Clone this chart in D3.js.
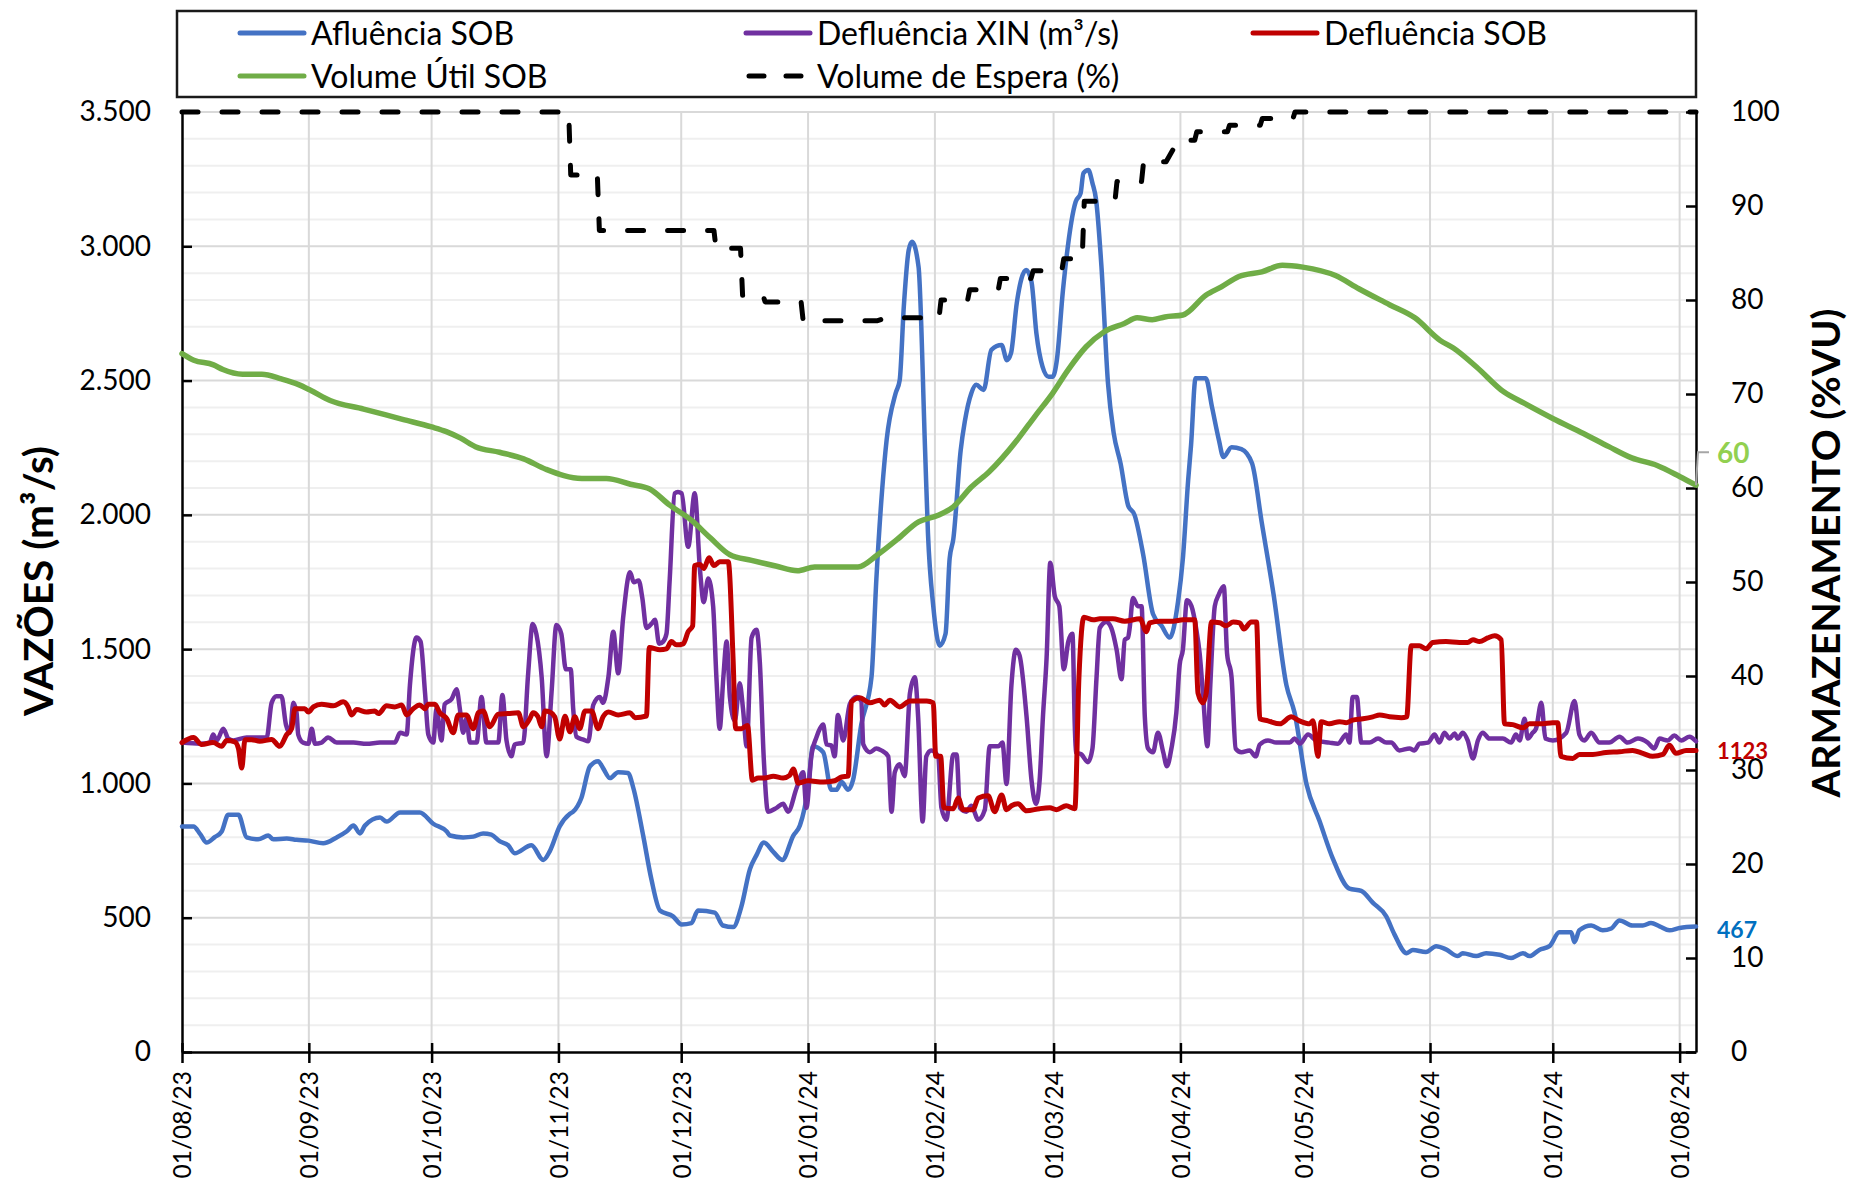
<!DOCTYPE html>
<html><head><meta charset="utf-8">
<script src="https://cdn.jsdelivr.net/npm/d3@7"></script>
<style>
body{margin:0;background:#fff}
svg text{font-family:Lato,"Open Sans","DejaVu Sans",sans-serif;fill:#000}
</style></head>
<body><svg id="chart" width="1852" height="1178"></svg>
<script>
// ---------- DATA (day offset from 01/08/23, value) ----------
const startDate = "2023-08-01";
const endDate = "2024-08-05";
const monthTicks = ["01/08/23","01/09/23","01/10/23","01/11/23","01/12/23","01/01/24","01/02/24","01/03/24","01/04/24","01/05/24","01/06/24","01/07/24","01/08/24"];
const flowTicks = [0,500,1000,1500,2000,2500,3000,3500];
const storageTicks = [0,10,20,30,40,50,60,70,80,90,100];
const seriesNames = ["Afluência SOB","Defluência XIN (m³/s)","Defluência SOB","Volume Útil SOB","Volume de Espera (%)"];

const afluenciaSOB = [[0,840],[2.8,840],[4.5,810],[6,780],[8,800],[9.7,821],[11.3,883],[13.8,883],[15.8,799],[18.6,792],[21.1,806],[22.3,792],[25.6,795],[28,790],[30.9,787],[34.5,777],[37.8,799],[40.2,821],[41.9,843],[43.5,814],[44.7,843],[48.4,873],[50,858],[53.3,892],[58.1,892],[61.4,850],[64.7,821],[65.5,806],[68.7,799],[71.2,802],[73.6,814],[75.6,809],[77.7,784],[79.7,770],[81.3,740],[85.4,770],[88.3,715],[89.9,748],[92.3,840],[94.8,887],[95.6,895],[97.6,946],[99.7,1064],[101.7,1083],[102.9,1057],[104.6,1020],[106.6,1042],[109,1039],[110.3,983],[112.7,806],[114.7,644],[116.8,527],[120,505],[122.1,475],[124.5,480],[126.1,527],[130.2,519],[132.2,471],[134.7,465],[136.7,541],[138.8,681],[140.4,733],[142.2,780],[144.5,745],[146.7,715],[149.4,806],[151,843],[153,983],[154.2,1138],[156.7,1116],[158.7,976],[159.9,976],[161.2,1005],[162.8,976],[164,1013],[166,1219],[168.5,1395],[169.7,1763],[171.1,2092],[172.2,2279],[174.4,2453],[175.4,2502],[176.4,2775],[177.6,2986],[178.4,3017],[180,2924],[181.6,2241],[182.3,1932],[183.6,1660],[185.2,1513],[186.6,1557],[187.6,1837],[188.5,1910],[190.3,2241],[191.3,2347],[192.9,2453],[194.1,2484],[195.9,2465],[197.8,2614],[200.3,2632],[201.6,2576],[202.6,2602],[204,2788],[206.3,2912],[207.6,2868],[208.8,2676],[210.3,2552],[211.8,2514],[212.8,2514],[213.8,2576],[215.3,2837],[218.4,3166],[219.6,3197],[220.3,3272],[221.5,3284],[222.5,3235],[223.4,3172],[224.7,2924],[226.3,2490],[227.7,2304],[229.4,2190],[231.2,2036],[232.8,1999],[234.9,1852],[237.3,1631],[239.4,1587],[241.4,1543],[243.4,1675],[244.6,1837],[245.9,2131],[246.6,2260],[247.7,2509],[250.2,2509],[251.7,2403],[253.4,2279],[254.5,2215],[256.5,2252],[258.9,2245],[261.5,2192],[263.9,1969],[266.8,1700],[269.9,1366],[271.9,1263],[274.8,998],[278,860],[281.3,718],[285.3,608],[288.2,600],[291,556],[294.3,505],[296.3,438],[299.3,368],[300.8,380],[304,372],[306.5,394],[308.9,382],[311.8,357],[313,368],[316.3,357],[318.7,368],[322,362],[324.8,350],[327.7,368],[329.3,357],[331.7,380],[334.2,394],[336.6,446],[339.5,446],[340.3,409],[341.5,453],[344.4,471],[347.2,453],[349.3,460],[351.3,490],[354.5,471],[357,471],[359,480],[361.1,468],[363.5,453],[366,462],[370,467]];

const defluenciaXIN = [[0,1152],[4.4,1148],[6.8,1152],[7.6,1182],[8.5,1160],[10.1,1204],[11.3,1167],[12.5,1160],[15.8,1171],[20.7,1171],[21.9,1300],[23.1,1325],[24.3,1325],[25.4,1219],[26.4,1189],[27.2,1300],[28,1263],[28.4,1182],[29.6,1152],[30.9,1148],[31.7,1204],[32.5,1148],[34.1,1152],[35.7,1171],[37.8,1152],[41.9,1152],[45.1,1148],[48.4,1152],[52,1152],[53.3,1189],[54.9,1182],[55.7,1366],[57.3,1543],[58.3,1528],[59.4,1336],[60.2,1182],[61.4,1152],[62.2,1278],[63.4,1160],[64.2,1295],[65.9,1314],[67.1,1351],[67.9,1278],[68.7,1189],[69.5,1241],[70.4,1152],[72,1152],[73.2,1322],[74.4,1152],[77.3,1152],[78.3,1329],[79.3,1160],[80.5,1101],[81.3,1145],[83.4,1152],[84.6,1410],[85.7,1594],[86.6,1557],[87.9,1395],[89.1,1101],[90.3,1336],[91.5,1590],[92.7,1557],[93.8,1425],[95,1425],[95.6,1278],[96.4,1174],[98.1,1163],[99.3,1157],[100.5,1292],[102.1,1322],[102.9,1300],[104.2,1395],[105.4,1565],[106.6,1410],[107.8,1616],[109.5,1786],[110.4,1749],[111.6,1756],[112.5,1690],[113.5,1579],[114.7,1594],[115.6,1609],[116.6,1520],[117.6,1528],[118.4,1557],[119.2,1763],[120.4,2080],[121.2,2085],[122.1,2080],[123.7,1881],[125.3,2080],[126.6,1793],[127.5,1675],[128.6,1763],[129.8,1660],[130.6,1395],[131.4,1204],[132.3,1395],[133.1,1528],[133.9,1322],[135.1,1233],[136.3,1373],[137.1,1278],[138,1138],[139.2,1543],[140.4,1572],[141.2,1454],[142.2,1086],[143.2,895],[145.3,909],[146.9,924],[148.1,895],[150.2,983],[151.8,1042],[152.6,909],[153.8,1101],[155.1,1174],[155.9,1204],[156.7,1219],[157.5,1145],[158.7,1142],[159.5,1101],[160.3,1255],[161.6,1160],[163.2,1295],[164.8,1322],[166,1307],[166.5,1145],[168.1,1116],[169.7,1130],[170.9,1123],[172.6,1101],[173.4,895],[174.2,1042],[175.4,1071],[176.6,1027],[177.9,1336],[179.1,1395],[179.9,1248],[181,858],[181.9,1101],[183.1,1123],[184.8,1101],[185.6,909],[186.8,865],[188.5,1108],[189.3,1108],[190.1,909],[191.7,895],[192.9,917],[194.6,865],[196.2,902],[197.4,1138],[199.5,1138],[200.5,1152],[201.5,998],[202.7,1366],[203.8,1498],[204.7,1476],[206.4,1248],[207.6,1013],[208.7,924],[209.6,1013],[210.4,1248],[211.3,1469],[212.2,1822],[213.3,1697],[214.4,1660],[215.5,1425],[216.6,1528],[217.6,1557],[218.4,1116],[219.8,1108],[221.4,1079],[222.5,1130],[223.5,1395],[224.3,1579],[225.9,1601],[227.1,1579],[228.4,1498],[229.6,1388],[230.4,1535],[231.2,1543],[231.6,1579],[232.4,1690],[233.6,1660],[234.5,1660],[235.3,1248],[236.1,1130],[237.3,1116],[238.5,1189],[239.8,1116],[240.7,1064],[241.8,1130],[243,1263],[243.8,1440],[244.6,1498],[245.6,1682],[246.7,1660],[247.9,1572],[248.7,1484],[249.5,1336],[250.6,1138],[251.3,1366],[252.4,1660],[253.4,1704],[254.6,1734],[255.4,1484],[256.5,1395],[257.5,1130],[258.9,1116],[260.9,1123],[262.4,1101],[263.4,1145],[265.4,1160],[267.4,1152],[270.7,1152],[271.9,1167],[273.2,1148],[275.2,1182],[277.2,1160],[280.4,1152],[282.5,1148],[284.5,1182],[285.3,1152],[286.1,1322],[287.1,1322],[288.2,1152],[290.2,1152],[292.3,1167],[294.3,1152],[295.5,1152],[297.5,1123],[300,1130],[301.2,1123],[302.4,1148],[304.5,1152],[306.1,1182],[307.3,1152],[308.5,1189],[309.8,1167],[311,1186],[311.8,1167],[313,1189],[314.2,1160],[315.5,1093],[316.7,1160],[317.9,1189],[319.5,1167],[322.8,1167],[324.8,1152],[326,1182],[326.9,1160],[328.1,1241],[328.9,1167],[330.1,1189],[330.9,1204],[332.2,1300],[333.2,1167],[335,1160],[338.3,1189],[340.3,1307],[341.5,1182],[342.7,1160],[344.4,1189],[346.4,1152],[348.8,1152],[351.3,1174],[353.3,1152],[355.8,1167],[358.2,1152],[359.8,1130],[361.1,1167],[363.1,1160],[364.7,1178],[366.4,1160],[368.4,1174],[370,1157]];

const defluenciaSOB = [[0,1152],[2.8,1171],[4.8,1145],[7.6,1152],[9.7,1138],[10.9,1160],[12.9,1155],[13.8,1130],[14.6,1057],[15.4,1163],[17,1163],[19,1157],[21.9,1164],[23.9,1138],[25.6,1182],[26.8,1204],[27.6,1278],[30,1278],[30.9,1266],[32.1,1285],[34.1,1295],[37,1289],[39.4,1304],[40.6,1285],[41.4,1255],[42.7,1275],[45.1,1266],[47.1,1270],[48,1260],[50,1289],[52,1285],[53.7,1292],[54.9,1255],[56.5,1278],[58.1,1292],[59.4,1278],[60.2,1295],[61.8,1295],[63,1263],[64.7,1241],[66.3,1189],[67.5,1255],[69.5,1255],[71.2,1204],[72.4,1263],[73.6,1270],[75.2,1211],[77.3,1258],[79.7,1260],[82.2,1263],[83.4,1211],[85,1241],[85.8,1263],[87,1248],[87.9,1211],[88.7,1270],[89.9,1266],[91.1,1248],[92.3,1165],[93.6,1250],[94.8,1192],[96,1248],[97.2,1204],[98.5,1270],[100.1,1270],[101.7,1204],[102.9,1248],[104.2,1266],[106.6,1255],[109.5,1263],[110.7,1245],[113.5,1251],[114.2,1506],[116.8,1498],[118.4,1501],[119.6,1528],[120.8,1516],[122.5,1520],[123.7,1565],[124.8,1587],[125.3,1811],[126.6,1815],[127.5,1800],[128.8,1840],[130,1811],[131.4,1825],[133.5,1825],[134.7,1454],[135.3,1204],[136.7,1204],[138.2,1216],[139.4,1012],[140.8,1020],[142.4,1020],[144.5,1027],[146.9,1020],[148.5,1030],[149.4,1054],[150.6,1001],[153,1010],[156.7,1005],[159.5,1010],[161.2,1024],[162.8,1027],[163.6,1304],[165.6,1319],[168.1,1300],[170.5,1310],[171.7,1292],[173,1310],[175.4,1285],[177.9,1307],[180.3,1307],[182,1307],[183.6,1300],[184.2,1101],[185.4,1101],[186.2,909],[188.5,906],[189.7,946],[190.9,902],[193.3,902],[194.6,946],[197,954],[198.6,895],[200.3,957],[201.5,902],[202.7,917],[204.3,924],[206.4,898],[209.6,906],[212.1,909],[213.7,902],[216.1,917],[218.2,906],[219.2,1395],[220.4,1619],[222.7,1609],[224.3,1613],[227.5,1613],[230.4,1604],[234.1,1613],[235.7,1565],[236.5,1598],[239,1604],[242.2,1604],[244.6,1609],[247.5,1609],[248.3,1336],[249.5,1300],[250.3,1336],[251.6,1601],[253.6,1598],[255.2,1587],[256.9,1601],[258.5,1598],[259.5,1575],[261.3,1601],[262.6,1601],[263.4,1241],[265.4,1233],[268.3,1222],[271.1,1248],[273.1,1233],[275.6,1222],[276.4,1233],[277.6,1101],[278.4,1230],[280.4,1222],[282.9,1230],[284.5,1226],[286.1,1236],[288.6,1241],[291,1248],[292.7,1255],[295.1,1248],[298,1245],[299.3,1248],[300.4,1513],[302.4,1513],[304,1501],[305.7,1525],[308.9,1528],[312.2,1525],[314.2,1525],[315.5,1535],[317.1,1528],[319.1,1542],[320.8,1550],[322.4,1535],[323.2,1222],[325.2,1219],[327.7,1207],[329.3,1222],[332.2,1222],[335,1226],[336.2,1226],[337,1101],[339.9,1093],[341.5,1108],[344.8,1108],[348,1115],[351.3,1118],[354.5,1123],[357,1112],[359.4,1101],[361.9,1108],[363.5,1142],[365.1,1112],[367.6,1123],[370,1123]];

const volumeUtilSOB = [[0,74.3],[2.9,73.6],[7.7,73.1],[10,72.6],[14.8,72.1],[19.5,72.1],[24.3,71.6],[28.5,71.0],[31.4,70.4],[36.2,69.3],[44.4,68.4],[53.9,67.3],[61,66.5],[64.6,66.0],[68.1,65.3],[71.7,64.4],[77.6,63.8],[83.5,63.1],[88.9,62.0],[97.7,61.0],[103.7,61.0],[109.6,60.4],[114.3,59.9],[119.1,58.2],[124.4,56.6],[129.1,54.7],[133.9,52.9],[139.2,52.3],[145.1,51.7],[150.4,51.2],[154.6,51.6],[165.2,51.6],[170,52.9],[174.7,54.5],[180,56.4],[184.8,57.1],[188.5,58.0],[192.9,60.1],[197.2,61.7],[204.1,65.1],[208.4,67.6],[212.8,70.1],[216.6,72.6],[220.9,75.0],[225.3,76.6],[230.3,77.5],[233.4,78.1],[237.1,77.9],[240.2,78.2],[244.6,78.4],[250.2,80.5],[254,81.4],[258.3,82.5],[263.9,83.0],[268.9,83.7],[273.9,83.5],[281.9,82.6],[287.6,81.2],[295.1,79.5],[301.3,78.1],[307.5,75.7],[310.7,74.9],[316.3,72.9],[323.1,70.2],[328.1,69.0],[335,67.4],[342.5,65.8],[348.7,64.4],[354.3,63.2],[360.5,62.4],[366.1,61.2],[370,60.3]];

const volumeEspera = [[0,100],[94.5,100],[95,93.3],[101.5,93.3],[102,87.4],[130,87.4],[130.5,85.5],[136.5,85.5],[137,80.5],[142,80.5],[142.5,79.8],[151.3,79.8],[151.8,77.8],[170,77.8],[172,78.1],[185,78.1],[185.5,80.0],[192,80.0],[192.5,81.1],[199.5,81.1],[200,82.3],[207.5,82.3],[208,83.1],[215,83.1],[215.5,84.4],[220,84.4],[220.5,90.5],[228,90.5],[228.5,92.6],[234.5,92.6],[235,94.7],[240.5,94.7],[243.5,97.0],[247.5,97.0],[248,97.9],[255.5,97.9],[256,98.6],[263.5,98.6],[264,99.3],[271.5,99.3],[272,100],[370,100]];

const lastLabels = {volume:"60", defluencia:"1123", afluencia:"467"};

// ---------- CHART ----------
const svg = d3.select("#chart");
const W = 1852, H = 1178;
const m = {left:182, right:1696, top:112, bottom:1052};
const parseISO = d3.utcParse("%Y-%m-%d");
const parseTick = d3.utcParse("%d/%m/%y");
const t0 = parseISO(startDate);
const x = d3.scaleUtc().domain([t0, parseISO(endDate)]).range([m.left, m.right]);
const yL = d3.scaleLinear().domain([0,3500]).range([m.bottom, m.top]);
const yR = d3.scaleLinear().domain([0,100]).range([m.bottom, m.top]);
const dayToDate = d => new Date(t0.getTime() + d*86400000);
const tickDates = monthTicks.map(parseTick);

svg.append("rect").attr("width",W).attr("height",H).attr("fill","#fff");

// grid
const g = svg.append("g");
const minor = d3.range(100,3500,100).filter(v => v % 500 !== 0);
g.selectAll(".minor").data(minor).join("line")
  .attr("x1",m.left).attr("x2",m.right).attr("y1",d=>yL(d)).attr("y2",d=>yL(d))
  .attr("stroke","#efefef").attr("stroke-width",2);
g.selectAll(".major").data(flowTicks.slice(1)).join("line")
  .attr("x1",m.left).attr("x2",m.right).attr("y1",d=>yL(d)).attr("y2",d=>yL(d))
  .attr("stroke","#d9d9d9").attr("stroke-width",2);
g.selectAll(".vg").data(tickDates.slice(1)).join("line")
  .attr("x1",d=>x(d)).attr("x2",d=>x(d)).attr("y1",m.top).attr("y2",m.bottom)
  .attr("stroke","#d9d9d9").attr("stroke-width",2);

// axes
const loc = d3.formatLocale({decimal:",", thousands:".", grouping:[3], currency:["R$",""]});
const fmt = loc.format(",d");

const axL = svg.append("g").attr("transform",`translate(${m.left},0)`)
  .call(d3.axisLeft(yL).tickValues(flowTicks).tickFormat(fmt).tickSizeInner(-10).tickSizeOuter(0).tickPadding(31));
const axR = svg.append("g").attr("transform",`translate(${m.right},0)`)
  .call(d3.axisRight(yR).tickValues(storageTicks).tickSizeInner(-10).tickSizeOuter(0).tickPadding(35));
const axB = svg.append("g").attr("transform",`translate(0,${m.bottom})`)
  .call(d3.axisBottom(x).tickValues(tickDates).tickFormat((d,i)=>monthTicks[i]).tickSizeInner(10).tickSizeOuter(0));
axB.selectAll(".tick line").attr("y1",-9).attr("y2",11);
axB.selectAll(".tick text").attr("transform","rotate(-90)").attr("x",-19).attr("y",0)
  .attr("dy","0.36em").attr("text-anchor","end").style("font-size","24.5px");
[axL,axR,axB].forEach(a=>{
  a.select(".domain").attr("stroke","#000").attr("stroke-width",2.5);
  a.selectAll(".tick line").attr("stroke","#000").attr("stroke-width",2.5);
  a.attr("font-family",null).attr("font-size",null);
});
axL.selectAll(".tick text").style("font-size","28px");
axR.selectAll(".tick text").style("font-size","28px");

// series
const lineL = d3.line().x(d=>x(dayToDate(d[0]))).y(d=>yL(d[1])).curve(d3.curveMonotoneX);
const lineR = d3.line().x(d=>x(dayToDate(d[0]))).y(d=>yR(d[1])).curve(d3.curveMonotoneX);
const lineRstep = d3.line().x(d=>x(dayToDate(d[0]))).y(d=>yR(d[1]));
const colors = ["#4472C4","#7030A0","#C00000","#70AD47","#000000"];
const s = svg.append("g").attr("fill","none").attr("stroke-linejoin","round").attr("stroke-linecap","round");
s.append("path").attr("d",lineL(afluenciaSOB)).attr("stroke",colors[0]).attr("stroke-width",4.5);
s.append("path").attr("d",lineL(defluenciaXIN)).attr("stroke",colors[1]).attr("stroke-width",4.5);
s.append("path").attr("d",lineL(defluenciaSOB)).attr("stroke",colors[2]).attr("stroke-width",5);
s.append("path").attr("d",lineR(volumeUtilSOB)).attr("stroke",colors[3]).attr("stroke-width",5.5);
s.append("path").attr("d",lineRstep(volumeEspera)).attr("stroke",colors[4]).attr("stroke-width",5)
  .attr("stroke-dasharray","16 24").attr("stroke-linecap","round");

// end labels
const lastV = volumeUtilSOB[volumeUtilSOB.length-1];
const yVol = yR(lastV[1]);
svg.append("path").attr("d",`M${m.right},${yVol} L${m.right+2},${yVol-33} L${m.right+13},${yVol-33}`)
  .attr("fill","none").attr("stroke","#a6a6a6").attr("stroke-width",2);
svg.append("text").attr("x",m.right+21).attr("y",yVol-32).attr("dy","0.36em")
  .style("font-size","28px").style("font-weight","700").style("fill","#92D050").text(lastLabels.volume);
const lastD = defluenciaSOB[defluenciaSOB.length-1];
svg.append("text").attr("x",m.right+21).attr("y",yL(lastD[1])+1).attr("dy","0.36em")
  .style("font-size","22px").style("font-weight","700").style("fill","#C00000").text(lastLabels.defluencia);
const lastA = afluenciaSOB[afluenciaSOB.length-1];
svg.append("text").attr("x",m.right+21).attr("y",yL(lastA[1])+3).attr("dy","0.36em")
  .style("font-size","23px").style("font-weight","700").style("fill","#0070C0").text(lastLabels.afluencia);

// axis titles
svg.append("text").attr("transform","translate(39,581) rotate(-90)").attr("text-anchor","middle")
  .attr("dy","0.36em").attr("textLength",270).attr("lengthAdjust","spacingAndGlyphs")
  .style("font-size","40px").style("font-weight","700").text("VAZÕES (m³/s)");
svg.append("text").attr("transform","translate(1826,553) rotate(-90)").attr("text-anchor","middle")
  .attr("dy","0.36em").attr("textLength",489).attr("lengthAdjust","spacingAndGlyphs")
  .style("font-size","39px").style("font-weight","700").text("ARMAZENAMENTO (%VU)");

// legend
const lg = svg.append("g");
lg.append("rect").attr("x",177).attr("y",11).attr("width",1519).attr("height",86)
  .attr("fill","#fff").attr("stroke","#1a1a1a").attr("stroke-width",2.5);
const legendPos = [[240,33],[746,33],[1253,33],[240,76],[746,76]];
seriesNames.forEach((name,i)=>{
  const [lx,ly] = legendPos[i];
  const ln = lg.append("line").attr("x1",lx).attr("x2",lx+64).attr("y1",ly).attr("y2",ly)
    .attr("stroke",colors[i]).attr("stroke-width",5).attr("stroke-linecap","round");
  if(i===4) ln.attr("stroke-dasharray","15 22").attr("x1",lx+3).attr("x2",lx+60);
  lg.append("text").attr("x",lx+71).attr("y",ly).attr("dy","0.36em").style("font-size","32px").text(name);
});
</script></body></html>
